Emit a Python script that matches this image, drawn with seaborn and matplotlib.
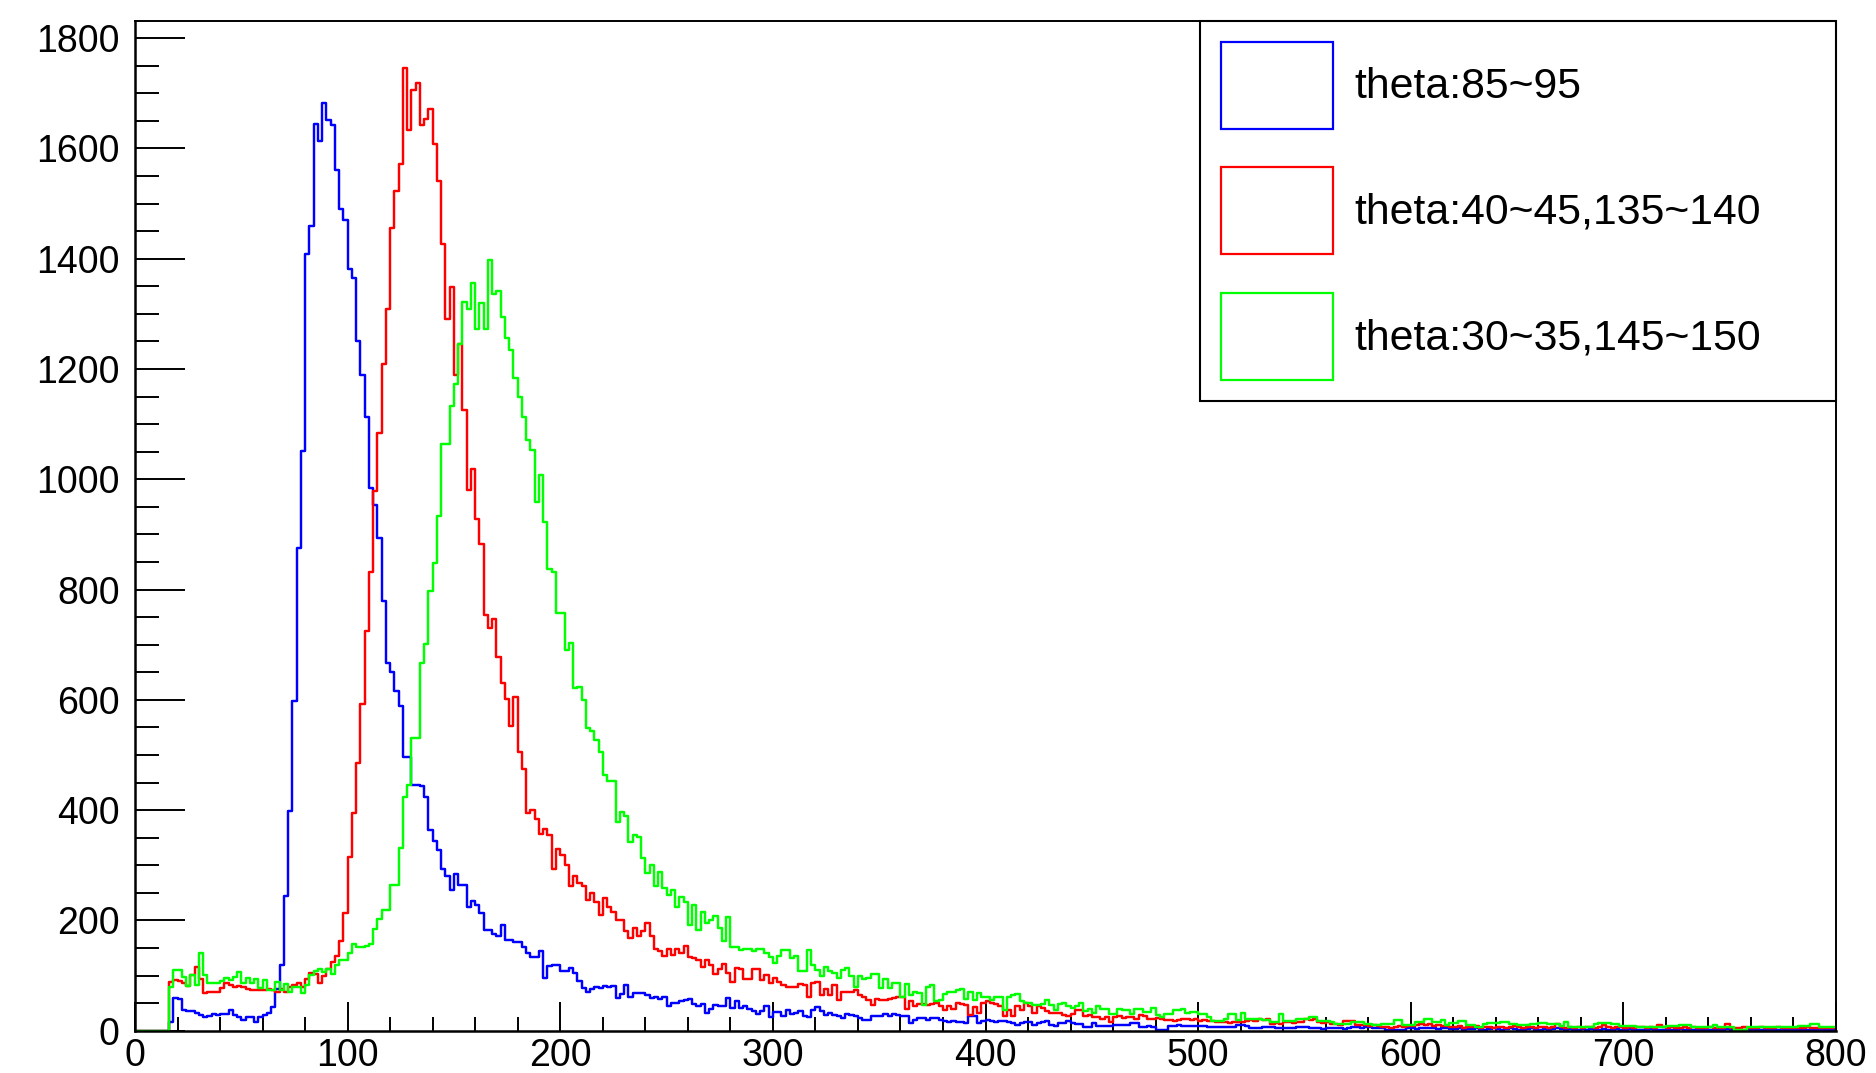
import numpy as np
import pandas as pd
import matplotlib
matplotlib.use("Agg")
import matplotlib.pyplot as plt
import seaborn as sns
from matplotlib.patches import Patch
from matplotlib.ticker import MultipleLocator

# Histogram binning: 400 bins of width 2 from 0 to 800
bin_width = 2
bin_range = (0, 800)
bin_edges = np.arange(bin_range[0], bin_range[1] + bin_width, bin_width)

# Bin contents, theta 85~95
counts_85_95 = [
    0, 0, 0, 0, 0, 0, 0, 0, 15, 60,
    57, 38, 35, 36, 33, 28, 24, 26, 31, 28,
    30, 31, 38, 28, 24, 20, 24, 25, 15, 24,
    28, 33, 43, 75, 120, 244, 398, 598, 876, 1051,
    1409, 1459, 1644, 1614, 1683, 1651, 1642, 1561, 1490, 1470,
    1382, 1365, 1251, 1189, 1113, 985, 954, 894, 780, 667,
    650, 616, 588, 497, 497, 446, 446, 443, 423, 364,
    344, 327, 293, 281, 255, 285, 264, 264, 225, 236,
    228, 213, 183, 183, 176, 171, 191, 164, 164, 160,
    160, 151, 140, 134, 134, 145, 96, 117, 119, 119,
    108, 108, 113, 104, 90, 77, 71, 75, 79, 77,
    81, 80, 81, 60, 67, 83, 62, 69, 68, 69,
    65, 60, 61, 57, 62, 45, 51, 50, 53, 56,
    57, 48, 45, 48, 33, 39, 47, 44, 45, 59,
    42, 54, 42, 44, 39, 36, 30, 36, 45, 24,
    34, 34, 26, 38, 31, 32, 35, 27, 25, 38,
    43, 35, 29, 32, 29, 26, 23, 31, 29, 26,
    23, 19, 20, 27, 26, 27, 31, 26, 31, 29,
    26, 27, 14, 19, 23, 23, 20, 23, 23, 19,
    17, 15, 17, 15, 15, 14, 26, 26, 14, 17,
    19, 17, 15, 17, 17, 15, 14, 11, 14, 15,
    15, 11, 14, 15, 17, 11, 9, 14, 14, 17,
    14, 13, 13, 7, 7, 14, 8, 8, 9, 8,
    10, 10, 11, 10, 14, 14, 7, 7, 8, 7,
    1, 1, 2, 9, 9, 10, 9, 8, 9, 9,
    8, 8, 7, 7, 7, 6, 6, 6, 6, 10,
    10, 9, 4, 4, 5, 6, 6, 6, 4, 4,
    4, 4, 4, 6, 6, 6, 4, 4, 5, 3,
    4, 4, 5, 4, 3, 4, 6, 6, 5, 6,
    6, 4, 4, 4, 1, 1, 2, 1, 1, 4,
    4, 3, 4, 5, 4, 4, 3, 4, 4, 3,
    3, 4, 2, 3, 3, 4, 2, 2, 3, 4,
    3, 2, 3, 4, 3, 2, 2, 3, 4, 2,
    2, 3, 2, 3, 4, 3, 2, 3, 1, 2,
    3, 2, 3, 2, 2, 3, 1, 2, 3, 2,
    2, 3, 2, 1, 2, 2, 3, 2, 1, 2,
    2, 1, 2, 3, 2, 2, 1, 2, 2, 1,
    2, 2, 1, 2, 3, 1, 2, 1, 1, 2,
    1, 2, 2, 1, 2, 1, 1, 2, 2, 1,
    2, 1, 1, 2, 1, 2, 1, 1, 2, 1,
]

# Bin contents, theta 40~45 and 135~140
counts_40_45 = [
    0, 0, 0, 0, 0, 0, 0, 0, 89, 92,
    90, 87, 81, 101, 116, 93, 68, 71, 71, 71,
    77, 86, 83, 79, 81, 79, 75, 73, 73, 73,
    73, 75, 73, 70, 75, 71, 79, 83, 86, 80,
    93, 104, 103, 86, 100, 112, 125, 135, 162, 213,
    315, 395, 485, 593, 724, 831, 979, 1083, 1209, 1308,
    1455, 1523, 1571, 1745, 1633, 1705, 1718, 1642, 1654, 1671,
    1608, 1540, 1427, 1291, 1348, 1189, 1245, 1126, 981, 1019,
    928, 882, 754, 731, 746, 678, 630, 602, 553, 605,
    505, 474, 395, 400, 383, 357, 366, 355, 293, 330,
    319, 300, 262, 280, 267, 262, 237, 249, 234, 210,
    240, 225, 216, 201, 200, 180, 168, 186, 171, 180,
    196, 171, 149, 145, 135, 149, 137, 149, 140, 154,
    133, 131, 129, 116, 128, 119, 103, 111, 121, 105,
    89, 113, 111, 93, 93, 111, 111, 92, 101, 86,
    95, 88, 83, 80, 79, 80, 85, 82, 62, 87,
    88, 65, 76, 64, 82, 56, 70, 71, 71, 73,
    64, 62, 55, 47, 57, 56, 56, 57, 59, 62,
    62, 39, 53, 45, 49, 49, 47, 49, 50, 45,
    38, 44, 39, 50, 49, 47, 29, 43, 32, 50,
    53, 50, 49, 45, 26, 38, 26, 44, 37, 50,
    44, 33, 44, 41, 35, 32, 32, 33, 29, 26,
    31, 37, 37, 26, 28, 25, 24, 22, 25, 16,
    24, 26, 23, 25, 24, 22, 28, 27, 22, 21,
    23, 21, 19, 20, 18, 19, 21, 22, 20, 21,
    18, 19, 17, 18, 16, 15, 15, 14, 16, 15,
    15, 18, 19, 18, 21, 20, 21, 13, 14, 12,
    15, 16, 14, 15, 16, 21, 20, 21, 15, 14,
    16, 12, 13, 11, 18, 17, 18, 10, 11, 10,
    9, 10, 8, 6, 7, 5, 7, 8, 6, 9,
    8, 10, 12, 11, 13, 9, 10, 8, 9, 7,
    6, 8, 5, 7, 6, 8, 5, 6, 7, 5,
    6, 7, 5, 6, 8, 6, 5, 7, 6, 5,
    6, 7, 5, 6, 12, 6, 5, 7, 5, 6,
    5, 6, 7, 5, 6, 10, 6, 5, 6, 7,
    5, 6, 5, 7, 6, 5, 6, 5, 10, 6,
    5, 6, 5, 4, 6, 5, 6, 5, 4, 5,
    6, 5, 4, 5, 12, 5, 4, 5, 6, 4,
    5, 4, 6, 5, 4, 5, 6, 4, 5, 4,
    5, 4, 5, 6, 4, 5, 4, 5, 4, 5,
]

# Bin contents, theta 30~35 and 145~150
counts_30_35 = [
    0, 0, 0, 0, 0, 0, 0, 0, 80, 110,
    110, 98, 81, 101, 83, 140, 101, 87, 87, 87,
    91, 95, 92, 98, 107, 87, 95, 86, 93, 77,
    92, 74, 74, 89, 74, 85, 71, 80, 80, 68,
    83, 101, 109, 111, 107, 111, 103, 119, 128, 128,
    140, 157, 151, 151, 153, 157, 185, 202, 219, 219,
    264, 264, 332, 423, 446, 531, 531, 667, 701, 797,
    848, 934, 1064, 1064, 1132, 1172, 1245, 1321, 1308, 1355,
    1272, 1319, 1272, 1398, 1336, 1342, 1294, 1257, 1234, 1183,
    1149, 1112, 1072, 1053, 958, 1007, 922, 837, 831, 758,
    758, 690, 703, 621, 624, 600, 549, 543, 528, 506,
    464, 452, 452, 379, 397, 390, 343, 355, 351, 313,
    286, 301, 263, 287, 258, 246, 255, 225, 243, 234,
    192, 228, 183, 216, 195, 200, 208, 186, 163, 207,
    151, 152, 146, 149, 148, 145, 149, 149, 140, 133,
    123, 135, 147, 147, 132, 135, 108, 108, 147, 120,
    110, 99, 116, 108, 105, 96, 110, 114, 99, 79,
    99, 93, 96, 102, 102, 77, 93, 77, 87, 87,
    62, 85, 65, 70, 68, 47, 80, 82, 53, 56,
    67, 71, 70, 74, 76, 57, 71, 55, 68, 62,
    62, 56, 62, 62, 38, 62, 65, 67, 53, 50,
    51, 47, 47, 49, 55, 47, 38, 49, 50, 44,
    41, 45, 50, 35, 40, 32, 44, 40, 40, 31,
    31, 39, 38, 38, 31, 39, 39, 34, 34, 42,
    28, 25, 31, 31, 38, 38, 39, 33, 34, 34,
    31, 31, 24, 18, 18, 18, 21, 31, 31, 19,
    32, 21, 21, 22, 22, 19, 19, 15, 15, 31,
    18, 18, 18, 21, 21, 21, 24, 24, 18, 18,
    18, 15, 12, 12, 12, 12, 16, 16, 16, 13,
    13, 10, 10, 12, 12, 12, 19, 19, 10, 10,
    10, 16, 16, 22, 22, 16, 16, 19, 10, 14,
    14, 18, 18, 10, 10, 7, 7, 12, 14, 14,
    14, 16, 16, 13, 13, 10, 10, 10, 13, 13,
    14, 14, 12, 12, 12, 8, 15, 7, 7, 7,
    7, 7, 7, 12, 14, 14, 14, 12, 12, 8,
    8, 8, 8, 7, 7, 7, 6, 6, 6, 6,
    8, 8, 8, 10, 10, 10, 7, 7, 7, 6,
    6, 10, 6, 6, 6, 6, 2, 2, 2, 7,
    7, 7, 6, 6, 6, 6, 6, 6, 6, 6,
    6, 8, 8, 8, 12, 12, 6, 6, 6, 6,
]

series_labels = ["theta:85~95", "theta:40~45,135~140", "theta:30~35,145~150"]
series_colors = ["#0000ff", "#ff0000", "#00ff00"]
x_ticks = [0, 100, 200, 300, 400, 500, 600, 700, 800]
y_ticks = [0, 200, 400, 600, 800, 1000, 1200, 1400, 1600, 1800]

sns.set_style("ticks")
plt.rcParams["font.family"] = ["Liberation Sans", "DejaVu Sans"]
plt.rcParams["text.color"] = "black"

W, H = 1876, 1073
fig = plt.figure(figsize=(W / 100, H / 100), dpi=100)
ax_left, ax_right, ax_top, ax_bottom = 135, 1836, 21, 1030.7
ax = fig.add_axes([ax_left / W, 1 - ax_bottom / H,
                   (ax_right - ax_left) / W, (ax_bottom - ax_top) / H])

centers = (bin_edges[:-1] + bin_edges[1:]) / 2
all_counts = [counts_85_95, counts_40_45, counts_30_35]
for counts, color in zip(all_counts, series_colors):
    assert len(counts) == len(centers)
    df = pd.DataFrame({"value": centers, "count": counts})
    sns.histplot(data=df, x="value", weights="count", binwidth=bin_width,
                 binrange=bin_range, element="step", fill=False,
                 color=color, linewidth=1.75, ax=ax)

ax.set_xlim(0, 800)
ax.set_ylim(0, 1831)
ax.set_xlabel("")
ax.set_ylabel("")

ax.set_xticks(x_ticks)
ax.set_yticks(y_ticks)
ax.xaxis.set_minor_locator(MultipleLocator(20))
ax.yaxis.set_minor_locator(MultipleLocator(50))
ax.tick_params(which="both", direction="in", top=False, right=False,
               color="black", labelcolor="black", width=1.4)
ax.tick_params(axis="x", which="major", length=21, labelsize=27, pad=5)
ax.tick_params(axis="x", which="minor", length=10)
ax.tick_params(axis="y", which="major", length=36, labelsize=27, pad=11)
ax.tick_params(axis="y", which="minor", length=17.5)

for side in ["left", "bottom"]:
    ax.spines[side].set_linewidth(1.8)
for side in ["top", "right"]:
    ax.spines[side].set_linewidth(1.4)
for sp in ax.spines.values():
    sp.set_color("black")
    sp.set_visible(True)

handles = [Patch(facecolor="none", edgecolor=c, linewidth=1.6, label=l)
           for c, l in zip(series_colors, series_labels)]
leg_x0 = (1200 - ax_left) / (ax_right - ax_left)
leg = ax.legend(handles=handles, loc="upper left",
                bbox_to_anchor=(leg_x0, 0.0, 1 - leg_x0, 1.0), mode="expand",
                borderaxespad=0, fontsize=30.8, handlelength=2.62,
                handleheight=2.75, labelspacing=0.90, borderpad=0.49,
                handletextpad=0.51, fancybox=False, framealpha=1,
                edgecolor="black", labelcolor="black")
leg.get_frame().set_linewidth(1.5)

fig.savefig("out.png", dpi=100, facecolor="white")
